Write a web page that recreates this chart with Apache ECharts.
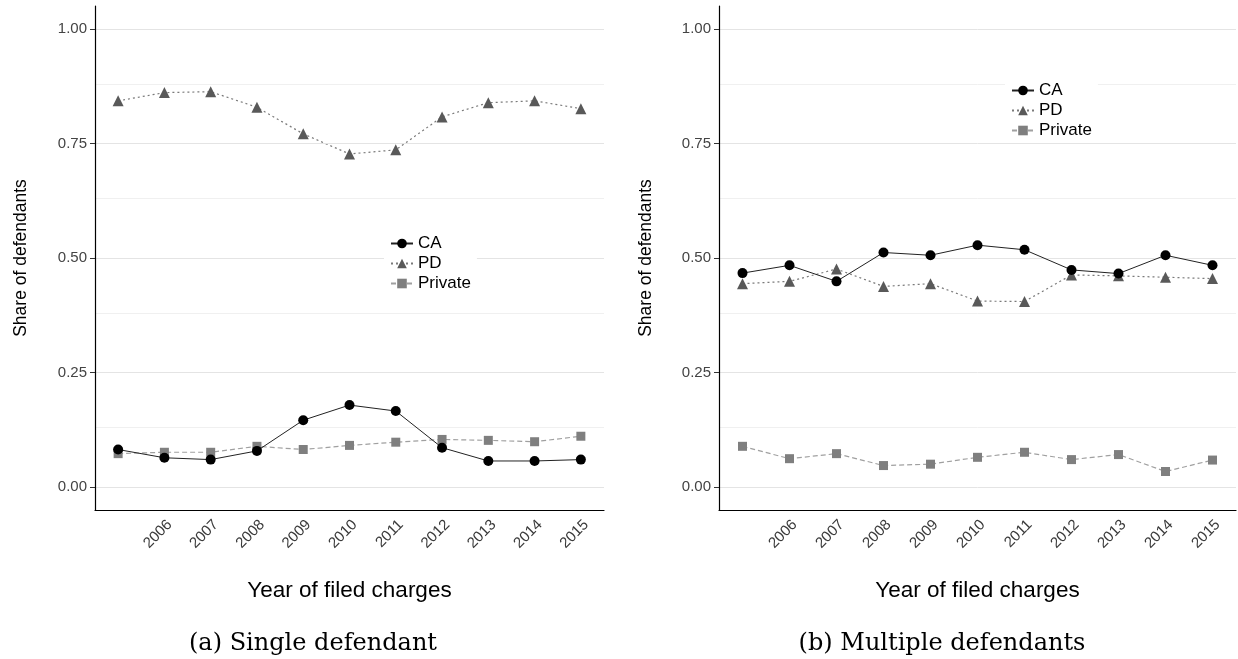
<!DOCTYPE html>
<html><head><meta charset="utf-8">
<script src="https://cdn.jsdelivr.net/npm/echarts@6/dist/echarts.min.js"></script>
<style>html,body{margin:0;padding:0;background:#fff}#c{width:1238px;height:659px}</style>
</head><body><div id="c"></div>
<script>
const years = ['2005','2006','2007','2008','2009','2010','2011','2012','2013','2014','2015'];
const singleCA = [0.082,0.064,0.060,0.079,0.146,0.179,0.166,0.086,0.057,0.057,0.060];
const singlePD = [0.843,0.861,0.863,0.829,0.771,0.727,0.736,0.808,0.839,0.843,0.826];
const singlePrivate = [0.073,0.076,0.076,0.089,0.082,0.091,0.098,0.104,0.102,0.099,0.111];
const multiCA = [0.467,0.484,0.449,0.512,0.506,0.528,0.518,0.474,0.466,0.506,0.484];
const multiPD = [0.444,0.449,0.476,0.438,0.444,0.406,0.405,0.463,0.461,0.458,0.455];
const multiPrivate = [0.089,0.062,0.073,0.047,0.050,0.065,0.076,0.060,0.071,0.034,0.059];
const yTicks = [0, 0.25, 0.5, 0.75, 1];
const yMinor = [0.125, 0.375, 0.625, 0.875];
const yTickLabels = ['0.00','0.25','0.50','0.75','1.00'];

const FONT = 'Liberation Sans';
const chart = echarts.init(document.getElementById('c'), null, {renderer:'canvas'});

function xAxis(gi){
  return {
    type:'category', gridIndex:gi, data:years, boundaryGap:true, z:5,
    name:'Year of filed charges', nameLocation:'middle', nameGap:69, nameMoveOverlap:false,
    nameTextStyle:{fontFamily:FONT, fontSize:22.5, color:'#000'},
    axisLine:{onZero:false, lineStyle:{color:'#000', width:1.2}},
    axisTick:{alignWithLabel:true, length:4, lineStyle:{color:'#333'}, interval:(i)=>i>0},
    axisLabel:{rotate:45, fontFamily:FONT, fontSize:15, color:'#3a3a3a', margin:7,
      align:'right', verticalAlign:'top',
      interval:0, formatter:(v)=> v==='2005' ? '' : v},
    splitLine:{show:false}
  };
}
function yAxis(gi, gap){
  return {
    type:'value', gridIndex:gi, min:-0.05, max:1.05, z:5,
    name:'Share of defendants', nameLocation:'middle', nameGap:gap, nameMoveOverlap:false,
    nameTextStyle:{fontFamily:FONT, fontSize:17.5, color:'#000'},
    axisLine:{show:true, lineStyle:{color:'#000', width:1.2}},
    axisTick:{show:true, length:5, lineStyle:{color:'#333'}, customValues:yTicks},
    axisLabel:{fontFamily:FONT, fontSize:15, color:'#444', margin:8, customValues:yTicks,
      formatter:(v)=>{const i=yTicks.findIndex(t=>Math.abs(t-v)<1e-6); return i>=0?yTickLabels[i]:'';}},
    splitLine:{show:false}
  };
}
function gridLines(gi){
  return {
    type:'line', name:'grid'+gi, xAxisIndex:gi, yAxisIndex:gi, data:[], z:1, silent:true,
    markLine:{silent:true, symbol:'none', label:{show:false}, animation:false,
      data: yTicks.map(v=>({yAxis:v, lineStyle:{color:'#e4e4e4', width:1, type:'solid'}}))
        .concat(yMinor.map(v=>({yAxis:v, lineStyle:{color:'#f0f0f0', width:1, type:'solid'}})))}
  };
}
function series(gi, ca, pd, pr){
  return [
    {type:'line', name:'CA', xAxisIndex:gi, yAxisIndex:gi, data:ca, z:5,
      symbol:'circle', symbolSize:10, itemStyle:{color:'#000'},
      lineStyle:{color:'#222', width:1, type:'solid'}},
    {type:'line', name:'PD', xAxisIndex:gi, yAxisIndex:gi, data:pd, z:4,
      symbol:'triangle', symbolSize:11, itemStyle:{color:'#595959'},
      lineStyle:{color:'#7a7a7a', width:1.2, type:[2,3]}},
    {type:'line', name:'Private', xAxisIndex:gi, yAxisIndex:gi, data:pr, z:3,
      symbol:'rect', symbolSize:9, itemStyle:{color:'#7f7f7f'},
      lineStyle:{color:'#a0a0a0', width:1.2, type:[5,3]}}
  ];
}
function legend(left, top){
  return {
    data:['CA','PD','Private'], orient:'vertical', left:left, top:top, z:20,
    backgroundColor:'#fff', padding:[2,6], itemGap:3, itemWidth:22, itemHeight:12,
    textStyle:{fontFamily:FONT, fontSize:17, color:'#000', lineHeight:17}
  };
}

chart.setOption({
  animation:false,
  backgroundColor:'#fff',
  title:[
    {text:'(a) Single defendant', left:308, top:627, textAlign:'center',
      textStyle:{fontFamily:'DejaVu Serif', fontSize:24, fontWeight:'normal', color:'#000'}},
    {text:'(b) Multiple defendants', left:937, top:627, textAlign:'center',
      textStyle:{fontFamily:'DejaVu Serif', fontSize:24, fontWeight:'normal', color:'#000'}}
  ],
  grid:[
    {left:95, top:6, width:509, height:504},
    {left:719, top:6, width:517, height:504}
  ],
  xAxis:[xAxis(0), xAxis(1)],
  yAxis:[yAxis(0, 65), yAxis(1, 64)],
  legend:[legend(384, 233), legend(1005, 80)],
  series:[gridLines(0), gridLines(1)]
    .concat(series(0, singleCA, singlePD, singlePrivate))
    .concat(series(1, multiCA, multiPD, multiPrivate))
});
</script></body></html>
